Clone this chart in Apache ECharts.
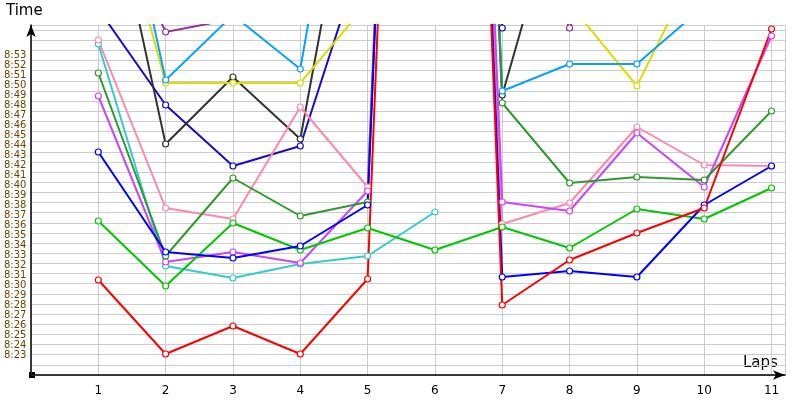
<!DOCTYPE html>
<html><head><meta charset="utf-8">
<script src="https://cdn.jsdelivr.net/npm/echarts@6/dist/echarts.min.js"></script>
<style>html,body{margin:0;padding:0;background:#fff}#c{width:800px;height:400px}</style>
</head><body><div id="c"></div>
<script>
// Lap numbers
const laps = [1,2,3,4,5,6,7,8,9,10,11];
// Lap times in minutes after 8:00 (values above ~56 are off the top of the chart)
const red      = [30.5, 23.1, 25.9, 23.1, 30.6, 200, 28.0, 32.5, 35.2, 37.7, 55.6];
const blue     = [43.3, 33.3, 32.7, 33.9, 38.0, 200, 30.8, 31.4, 30.8, 38.0, 41.9];
const green    = [36.4, 29.9, 36.2, 33.5, 35.7, 33.5, 35.8, 33.7, 37.6, 36.6, 39.7];
const darkGreen= [51.2, 32.9, 40.7, 36.9, 38.3, 201, 48.2, 40.2, 40.8, 40.5, 47.4];
const pink     = [54.5, 37.7, 36.6, 47.8, 39.8, 199, 36.1, 38.2, 45.8, 42.0, 41.9];
const violet   = [48.9, 32.3, 33.3, 32.2, 39.4, 200, 38.3, 37.4, 45.2, 39.8, 54.9];
const cyan     = [54.1, 31.9, 30.7, 32.1, 32.9, 37.3, null, null, null, null, null];
const skyBlue  = [81.6, 50.5, 57.0, 51.6, 90, 200, 49.4, 52.1, 52.1, 57.9, 62];
const yellow   = [75, 50.2, 50.2, 50.2, 58.2, 200, 70, 58.1, 49.9, 63.5, 70];
const gray     = [75, 44.1, 50.8, 44.6, 81, 200, 49.0, 72.5, 80, 80, 80];
const navy     = [57.6, 48.0, 41.9, 43.9, 64.7, 200, 55.7, null, null, null, null];
const purple   = [70, 55.3, 56.6, 70, 80, 200, 70, 55.7, 70, 70, 70];
// Y tick labels (minutes 23..53)
const yLabels = [];
for (let m = 23; m <= 53; m++) yLabels.push(m);

const seriesDefs = [
  ['purple', purple, '#993399'],
  ['navy', navy, '#1a0acc'],
  ['gray', gray, '#333333'],
  ['yellow', yellow, '#dddd00'],
  ['skyBlue', skyBlue, '#0aa0ff'],
  ['cyan', cyan, '#33cccc'],
  ['pink', pink, '#ff88aa'],
  ['violet', violet, '#cc44ff'],
  ['darkGreen', darkGreen, '#2e9a2e'],
  ['green', green, '#00c800'],
  ['blue', blue, '#0000ff'],
  ['red', red, '#ff0000']
];

const chart = echarts.init(document.getElementById('c'), null, {renderer:'canvas'});
chart.setOption({
  animation:false,
  grid:{left:31, right:15, top:25, bottom:25},
  xAxis:{type:'value', min:0, max:11.2, interval:1,
    axisLine:{lineStyle:{color:'#000', width:1.5}, symbol:['none','arrow'], symbolSize:[7,12]},
    axisTick:{show:false},
    axisLabel:{color:'#000', fontSize:12, fontFamily:'DejaVu Sans', margin:10,
      formatter:v=> (v>=1 && v<=11 && Number.isInteger(v)) ? String(v) : ''},
    splitLine:{show:true, lineStyle:{color:'#cccccc', width:1}}
  },
  yAxis:[{type:'value', min:21, max:56, interval:1,
    axisLine:{lineStyle:{color:'#000', width:1.5}, symbol:['none','arrow'], symbolSize:[7,12]},
    axisTick:{show:false},
    axisLabel:{color:'#6b4400', fontSize:10, fontFamily:'DejaVu Sans', margin:27, align:'left',
      formatter:v=> yLabels.indexOf(v)>=0 ? '8:'+v : ''},
    splitLine:{show:false}
  },{type:'value', min:21.5, max:56, interval:1, position:'left',
    axisLine:{show:false}, axisTick:{show:false}, axisLabel:{show:false},
    splitLine:{show:true, lineStyle:{color:'#cccccc', width:1}}
  }],
  graphic:[
    {type:'text', left:6, top:4, style:{text:'Time', font:'15px "DejaVu Sans"', fill:'#000'}},
    {type:'text', left:743, top:356, style:{text:'Laps', font:'15px "DejaVu Sans"', fill:'#000'}},
    {type:'rect', left:29, top:372, shape:{width:6,height:6}, style:{fill:'#000'}}
  ],
  series: seriesDefs.map(([name, arr, color]) => ({
    name, type:'line', clip:true,
    data: laps.map((l,i)=> arr[i]==null ? null : [l, arr[i]]),
    symbol:'circle', symbolSize:6,
    itemStyle:{color:'#fff', borderColor:color, borderWidth:1.2},
    lineStyle:{color, width:2},
    connectNulls:false
  }))
});
</script></body></html>
